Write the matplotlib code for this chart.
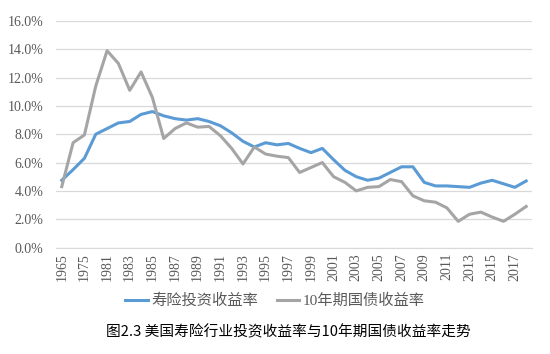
import numpy as np
import matplotlib
matplotlib.use("Agg")
import matplotlib.pyplot as plt
from matplotlib.ticker import FuncFormatter

years = ['1965', '1970', '1975', '1980'] + [str(y) for y in range(1981, 2019)]
life_yield = [4.75, 5.5, 6.3, 8.0, 8.4, 8.8, 8.9, 9.4, 9.6, 9.3,
              9.1, 9.0, 9.1, 8.9, 8.6, 8.1, 7.5, 7.1, 7.4, 7.25,
              7.35, 7.0, 6.7, 7.0, 6.2, 5.45, 5.0, 4.75, 4.9, 5.3,
              5.7, 5.7, 4.6, 4.35, 4.35, 4.3, 4.25, 4.55, 4.75, 4.5,
              4.25, 4.7]
bond_yield = [4.3, 7.4, 7.95, 11.4, 13.9, 13.0, 11.1, 12.4, 10.6, 7.7,
              8.4, 8.8, 8.5, 8.55, 7.9, 7.0, 5.9, 7.1, 6.6, 6.45,
              6.35, 5.3, 5.65, 6.0, 5.0, 4.6, 4.0, 4.25, 4.3, 4.8,
              4.65, 3.65, 3.3, 3.2, 2.8, 1.85, 2.35, 2.5, 2.15, 1.85,
              2.35, 2.9]
labels = ['寿险投资收益率', '10年期国债收益率']
caption = '图2.3 美国寿险行业投资收益率与10年期国债收益率走势'

fig = plt.figure(figsize=(5.5, 3.54), dpi=100)
ax = fig.add_axes([0.102, 0.3008, 0.865, 0.64])

x = np.arange(len(years))
ax.plot(x, life_yield, color='#5B9BD5', lw=2.2, label=labels[0], zorder=3)
ax.plot(x, bond_yield, color='#A5A5A5', lw=2.2, label=labels[1], zorder=3)

ax.set_xlim(-0.5, len(years) - 0.5)
ax.set_ylim(0, 16)
ax.set_yticks(np.arange(0, 17, 2))
ax.yaxis.set_major_formatter(FuncFormatter(lambda v, p: f'{v:.1f}%'))
ax.grid(axis='y', color='#D9D9D9', lw=0.9, zorder=0)
ax.set_xticks(x[::2])
ax.set_xticklabels(years[::2], rotation=90, family='Liberation Serif',
                   fontsize=10, color='#595959')
for lab in ax.get_yticklabels():
    lab.set_family('Liberation Serif')
    lab.set_fontsize(10)
    lab.set_color('#595959')
ax.tick_params(axis='x', length=0, pad=4)
ax.tick_params(axis='y', length=0, pad=9)
for s in ['top', 'right', 'left']:
    ax.spines[s].set_visible(False)
ax.spines['bottom'].set_color('#D9D9D9')

fig.legend(loc='center', bbox_to_anchor=(0.5, 1 - 301 / 354), ncol=2, frameon=False,
           handlelength=1.5, handletextpad=0.2, columnspacing=1.2,
           prop={'family': ['Liberation Serif', 'Noto Sans CJK SC'], 'size': 11},
           labelcolor='#595959')

fig.text(288 / 550, 1 - 332 / 354, caption, ha='center', va='center',
         family=['Noto Sans CJK SC', 'DejaVu Sans'], fontsize=10.6, color='black')

fig.savefig('out.png', dpi=100, facecolor='white')
